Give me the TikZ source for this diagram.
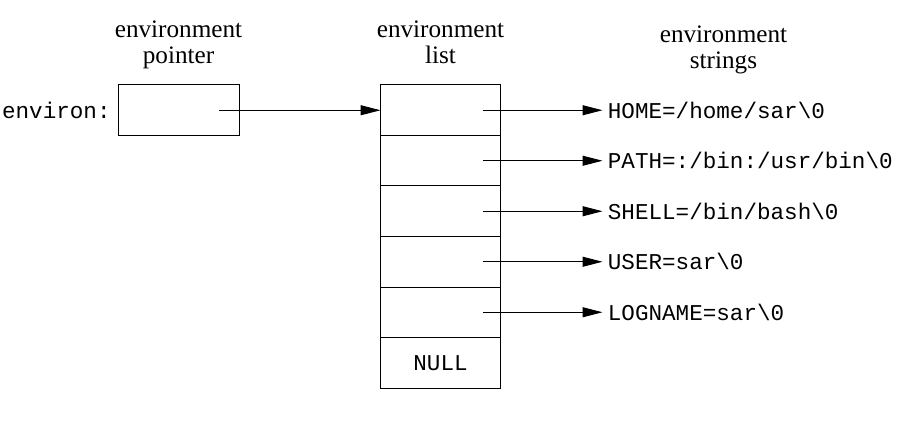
\documentclass[tikz,border=0pt]{standalone}
\usepackage{fontspec}
\setmainfont{Liberation Serif}
\setmonofont{Liberation Mono}
\usetikzlibrary{arrows.meta,positioning}

\begin{document}
\begin{tikzpicture}[x=0.5pt,y=-0.5pt,
        cell/.style={draw, line width=0.5pt, outer sep=0pt, inner sep=0pt,
            minimum width=60pt, minimum height=25.25pt,
            font=\ttfamily\fontsize{11.3}{13}\selectfont},
        heading/.style={align=center, inner sep=0pt, anchor=north,
            font=\fontsize{12.6}{13}\selectfont},
        envstr/.style={inner sep=2.5pt, font=\ttfamily\fontsize{11.3}{13}\selectfont},
        ptr/.style={line width=0.5pt, -{Triangle[length=10pt,width=5pt]}}]

        \useasboundingbox (0,0) rectangle (909,427);

        % Headings above the columns
        \node[heading] (hpointer) at (178.5,20) {environment\\pointer};
        \node[heading] (hlist) at (440.5,20) {environment\\list};
        \node[heading] (hstrings) at (723.5,25) {environment\\strings};

        % Draw the pointer variable
        \node[cell, minimum width=60.5pt] (envbox) at (178.5,110.25) {};
        \node[anchor=east, inner sep=0pt, font=\ttfamily\fontsize{11.3}{13}\selectfont] (envname) at (111,110.25) {environ:};

        % Draw the list of pointers
        \node[cell] (c1) at (440.5,110.25) {};
        \node[cell, below=0pt of c1] (c2) {};
        \node[cell, below=0pt of c2] (c3) {};
        \node[cell, below=0pt of c3] (c4) {};
        \node[cell, below=0pt of c4] (c5) {};
        \node[cell, below=0pt of c5] (c6) {NULL};

        % Draw the strings
        \node[envstr, right=51pt of c1.east] (s1) {HOME=/home/sar\textbackslash0};
        \node[envstr, right=51pt of c2.east] (s2) {PATH=:/bin:/usr/bin\textbackslash0};
        \node[envstr, right=51pt of c3.east] (s3) {SHELL=/bin/bash\textbackslash0};
        \node[envstr, right=51pt of c4.east] (s4) {USER=sar\textbackslash0};
        \node[envstr, right=51pt of c5.east] (s5) {LOGNAME=sar\textbackslash0};

        % Arrows start inside the boxes
        \coordinate[left=10pt of envbox.east] (q0);
        \coordinate[left=9pt of c1.east] (q1);
        \coordinate[left=9pt of c2.east] (q2);
        \coordinate[left=9pt of c3.east] (q3);
        \coordinate[left=9pt of c4.east] (q4);
        \coordinate[left=9pt of c5.east] (q5);

        \draw[ptr] (q0) -- (c1.west);
        \draw[ptr] (q1) -- (s1.west);
        \draw[ptr] (q2) -- (s2.west);
        \draw[ptr] (q3) -- (s3.west);
        \draw[ptr] (q4) -- (s4.west);
        \draw[ptr] (q5) -- (s5.west);

    \end{tikzpicture}
\end{document}
